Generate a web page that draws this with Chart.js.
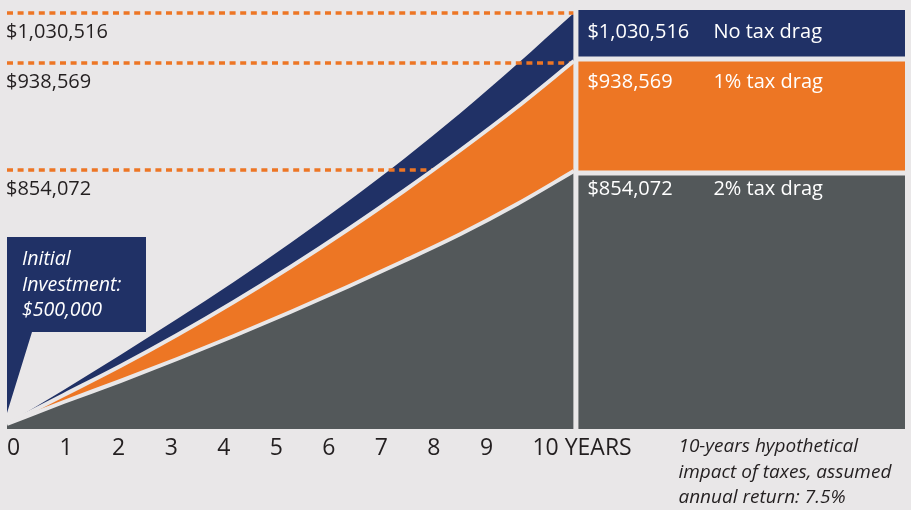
<!DOCTYPE html>
<html>
<head>
<meta charset="utf-8">
<script src="https://cdn.jsdelivr.net/npm/chart.js@4.4.1/dist/chart.umd.min.js"></script>
<style>
  html, body { margin: 0; padding: 0; background: #e9e7e8; }
  #wrap { width: 911px; height: 510px; }
</style>
</head>
<body>
<div id="wrap"><canvas id="chart" width="911" height="510"></canvas></div>
<script>
// years on the bottom axis
let years = [0, 1, 2, 3, 4, 5, 6, 7, 8, 9, 10];
let yearLabels = ["0", "1", "2", "3", "4", "5", "6", "7", "8", "9", "10 YEARS"];

// heights of the three curves as drawn (the picture is schematic, not to scale)
let noDrag  = [5, 39, 74, 110, 147, 186, 227, 270, 316, 365, 416];
let oneDrag = [5, 34, 63, 94, 127, 162, 199, 238, 279, 322, 368];
let twoDrag = [5, 27, 48, 70, 93, 117, 142, 168, 195, 225, 258];

// result blocks on the right and the dotted guide lines
let blockTops = [419, 370, 256];
let guideLevels = [416, 366, 259];
let endValues = ["$1,030,516", "$938,569", "$854,072"];
let seriesNames = ["No tax drag", "1% tax drag", "2% tax drag"];
let calloutLines = ["Initial", "Investment:", "$500,000"];
let noteLines = ["10-years hypothetical", "impact of taxes, assumed", "annual return: 7.5%"];

let bg = "#e9e7e8";
let navy = "#203166";
let orange = "#ed7624";
let grey = "#53585a";
let dark = "#231f20";

let xMax = 15.84;

function pts(arr) {
    return years.map(function (yr, i) { return { x: yr, y: arr[i] }; });
}
function flat(v, from, to) {
    return [{ x: from, y: v }, { x: to, y: v }];
}

let extras = {
    id: "extras",
    afterDatasetsDraw(chart) {
        let ctx = chart.ctx;
        let xs = chart.scales.x;
        let ys = chart.scales.y;
        let area = chart.chartArea;
        let xEnd = xs.getPixelForValue(10);
        ctx.save();

        // gap between the curves and the blocks
        ctx.fillStyle = bg;
        ctx.fillRect(xEnd - 0.5, area.top, 5, area.bottom - area.top);

        // end values, left and inside the blocks
        ctx.font = "20px 'Open Sans'";
        ctx.textAlign = "left";
        ctx.textBaseline = "alphabetic";
        endValues.forEach(function (t, i) {
            let y = ys.getPixelForValue(guideLevels[i]) + 25;
            ctx.fillStyle = dark;
            ctx.fillText(t, area.left - 1, y);
            ctx.fillStyle = "#ffffff";
            ctx.fillText(t, xEnd + 13.5, y);
            ctx.fillText(seriesNames[i], xEnd + 139.5, y);
        });

        // initial investment callout
        let tipX = xs.getPixelForValue(0);
        let tipY = ys.getPixelForValue(noDrag[0]) - 11;
        let top = tipY - 176, bottom = tipY - 81;
        ctx.fillStyle = navy;
        ctx.beginPath();
        ctx.moveTo(tipX, top);
        ctx.lineTo(tipX + 139, top);
        ctx.lineTo(tipX + 139, bottom);
        ctx.lineTo(tipX + 25, bottom);
        ctx.lineTo(tipX, tipY);
        ctx.closePath();
        ctx.fill();
        ctx.fillStyle = "#ffffff";
        ctx.font = "italic 19.5px 'Open Sans'";
        calloutLines.forEach(function (t, i) {
            ctx.fillText(t, tipX + 15, top + 28 + i * 25.5);
        });

        // note under the blocks
        ctx.fillStyle = dark;
        ctx.font = "italic 19px 'Open Sans'";
        noteLines.forEach(function (t, i) {
            ctx.fillText(t, xEnd + 104.5, area.bottom + 23 + i * 25.5);
        });
        ctx.restore();
    }
};

function guide(v) {
    return {
        data: flat(v, 0, 10),
        borderColor: orange,
        borderWidth: 3.5,
        borderDash: [6, 4.6],
        borderCapStyle: "butt",
        pointRadius: 0,
        fill: false,
        order: 8
    };
}

let myChart = document.getElementById("chart").getContext("2d");
let display = new Chart(myChart, {
    type: "line",
    data: {
        datasets: [
            {   // 0: 2% tax drag
                data: pts(twoDrag),
                backgroundColor: grey,
                borderColor: bg,
                borderWidth: 4,
                pointRadius: 0,
                cubicInterpolationMode: "monotone",
                fill: "origin",
                order: 4
            },
            {   // 1: 1% tax drag
                data: pts(oneDrag),
                backgroundColor: orange,
                borderColor: bg,
                borderWidth: 4,
                pointRadius: 0,
                cubicInterpolationMode: "monotone",
                fill: 0,
                order: 6
            },
            {   // 2: no tax drag
                data: pts(noDrag),
                backgroundColor: navy,
                borderColor: navy,
                borderWidth: 0,
                pointRadius: 0,
                cubicInterpolationMode: "monotone",
                fill: 1,
                order: 10
            },
            guide(guideLevels[0]),
            guide(guideLevels[1]),
            guide(guideLevels[2]),
            {   // 6: grey block
                data: flat(blockTops[2], 10, xMax),
                backgroundColor: grey,
                borderColor: bg,
                borderWidth: 5,
                pointRadius: 0,
                fill: "origin",
                order: 2
            },
            {   // 7: orange block
                data: flat(blockTops[1], 10, xMax),
                backgroundColor: orange,
                borderColor: bg,
                borderWidth: 5,
                pointRadius: 0,
                fill: 6,
                order: 2
            },
            {   // 8: navy block
                data: flat(blockTops[0], 10, xMax),
                backgroundColor: navy,
                borderColor: navy,
                borderWidth: 0,
                pointRadius: 0,
                fill: 7,
                order: 2
            }
        ]
    },
    options: {
        responsive: false,
        animation: false,
        events: [],
        layout: { padding: { left: 7, right: 0, top: 0, bottom: 0 } },
        plugins: { legend: { display: false }, tooltip: { enabled: false } },
        scales: {
            x: { type: "linear", min: 0, max: xMax, display: false },
            y: { type: "linear", min: 0, max: 429, display: false },
            xt: {
                type: "linear",
                position: "bottom",
                min: 0,
                max: 17.09,
                grid: { display: false, drawTicks: false },
                border: { display: false },
                afterFit: function (s) { s.height = 81; },
                ticks: {
                    stepSize: 1,
                    maxTicksLimit: 40,
                    autoSkip: false,
                    maxRotation: 0,
                    minRotation: 0,
                    align: "start",
                    padding: 6,
                    color: dark,
                    font: { family: "'Open Sans'", size: 23 },
                    callback: function (v) {
                        if (Number.isInteger(v) && v <= 10) return yearLabels[v];
                        return "";
                    }
                }
            }
        }
    },
    plugins: [extras]
});
</script>
</body>
</html>
